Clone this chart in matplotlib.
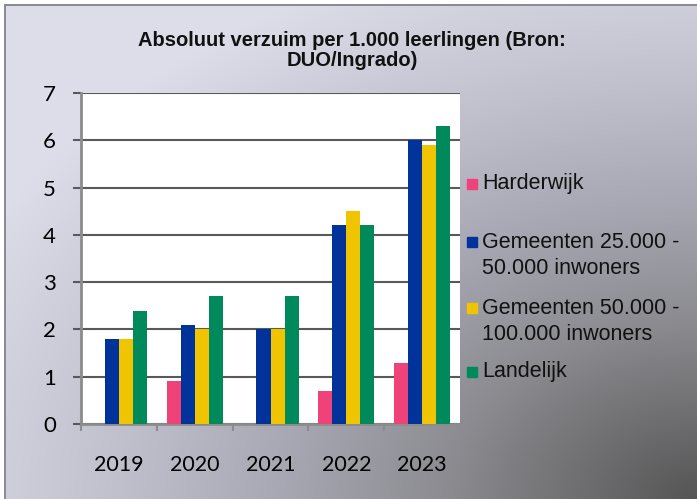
import numpy as np
import matplotlib
matplotlib.use("Agg")
import matplotlib.pyplot as plt
from matplotlib.patches import Rectangle

# ---- data ----
years = ["2019", "2020", "2021", "2022", "2023"]
series_names = ["Harderwijk", "Gemeenten 25.000 -\n50.000 inwoners",
                "Gemeenten 50.000 -\n100.000 inwoners", "Landelijk"]
harderwijk = [np.nan, 0.9, np.nan, 0.7, 1.3]
gem_25_50 = [1.8, 2.1, 2.0, 4.2, 6.0]
gem_50_100 = [1.8, 2.0, 2.0, 4.5, 5.9]
landelijk = [2.4, 2.7, 2.7, 4.2, 6.3]
title = "Absoluut verzuim per 1.000 leerlingen (Bron:\nDUO/Ingrado)"
colors = ["#EF4279", "#003399", "#F0C400", "#00895A"]

W, H = 697, 499
fig = plt.figure(figsize=(W / 100, H / 100), dpi=100)

# ---- background gradient ----
bg = fig.add_axes([0, 0, 1, 1])
bg.set_zorder(-10)
bg.axis("off")
yy, xx = np.mgrid[0:H, 0:W]
t = np.sqrt(((W - xx) / W) ** 2 + ((H - yy) / H) ** 2)
stops = [0.0, 0.35, 0.6, 0.85, 1.15]
R = np.interp(t, stops, [0x55, 0x8a, 0xa8, 0xc2, 0xdc])
G = np.interp(t, stops, [0x55, 0x8a, 0xa8, 0xc2, 0xdd])
B = np.interp(t, stops, [0x55, 0x8f, 0xb4, 0xce, 0xe9])
img = np.dstack([R, G, B]) / 255.0
img[:4, :, :] = 1.0
img[:, :4, :] = 1.0
img[4:6, 4:, :] = 0x8c / 255.0
img[4:, 4:6, :] = 0x8c / 255.0
bg.imshow(img, extent=[0, W, H, 0], aspect="auto", interpolation="nearest")
bg.set_xlim(0, W)
bg.set_ylim(H, 0)

# ---- main axes ----
ax = fig.add_axes([81 / W, 75 / H, 379 / W, 331 / H])
ax.set_facecolor("white")
x = np.arange(len(years))
bw = 0.185
all_series = [harderwijk, gem_25_50, gem_50_100, landelijk]
for i, (vals, c) in enumerate(zip(all_series, colors)):
    ax.bar(x + (i - 1.5) * bw, vals, width=bw, color=c, zorder=3)

ax.set_xlim(-0.5, len(years) - 0.5)
ax.set_ylim(0, 7)
ax.set_yticks(range(0, 8))
ax.yaxis.grid(True, color="#595959", lw=1.5)
ax.set_axisbelow(True)
ax.tick_params(axis="y", length=6, width=1.5, color="#595959", pad=12,
               labelsize=16)
for lab in ax.get_yticklabels():
    lab.set_fontfamily("Lato")
ax.set_xticks(x)
ax.set_xticklabels(years, fontfamily="Lato", fontsize=15.5)
ax.set_xticks(np.arange(-0.5, len(years) - 1, 1.0), minor=True)
ax.tick_params(axis="x", which="major", length=0, pad=22)
ax.tick_params(axis="x", which="minor", length=5, width=1.5, color="#8c8c8c")
for s in ["top", "right"]:
    ax.spines[s].set_visible(False)
for s in ["left", "bottom"]:
    ax.spines[s].set_color("#8c8c8c")
    ax.spines[s].set_linewidth(2)

# ---- title ----
fig.text(352 / W, 1 - 31 / H, title, ha="center", va="top",
         fontfamily="Liberation Sans", fontweight="bold", fontsize=14.5,
         linespacing=1.1, color="#111111")

# ---- legend (manual) ----
entry_y = [184, 242, 308, 372]
for name, c, y0 in zip(series_names, colors, entry_y):
    fig.patches.append(Rectangle((467 / W, 1 - (y0 + 5) / H), 10 / W, 10 / H,
                                 transform=fig.transFigure, color=c))
    for k, line in enumerate(name.split("\n")):
        fig.text(482 / W, 1 - (y0 + 26 * k) / H, line, ha="left",
                 va="center", fontfamily="Liberation Sans", fontsize=15.5,
                 color="#111111")

fig.savefig("out.png", dpi=100)
